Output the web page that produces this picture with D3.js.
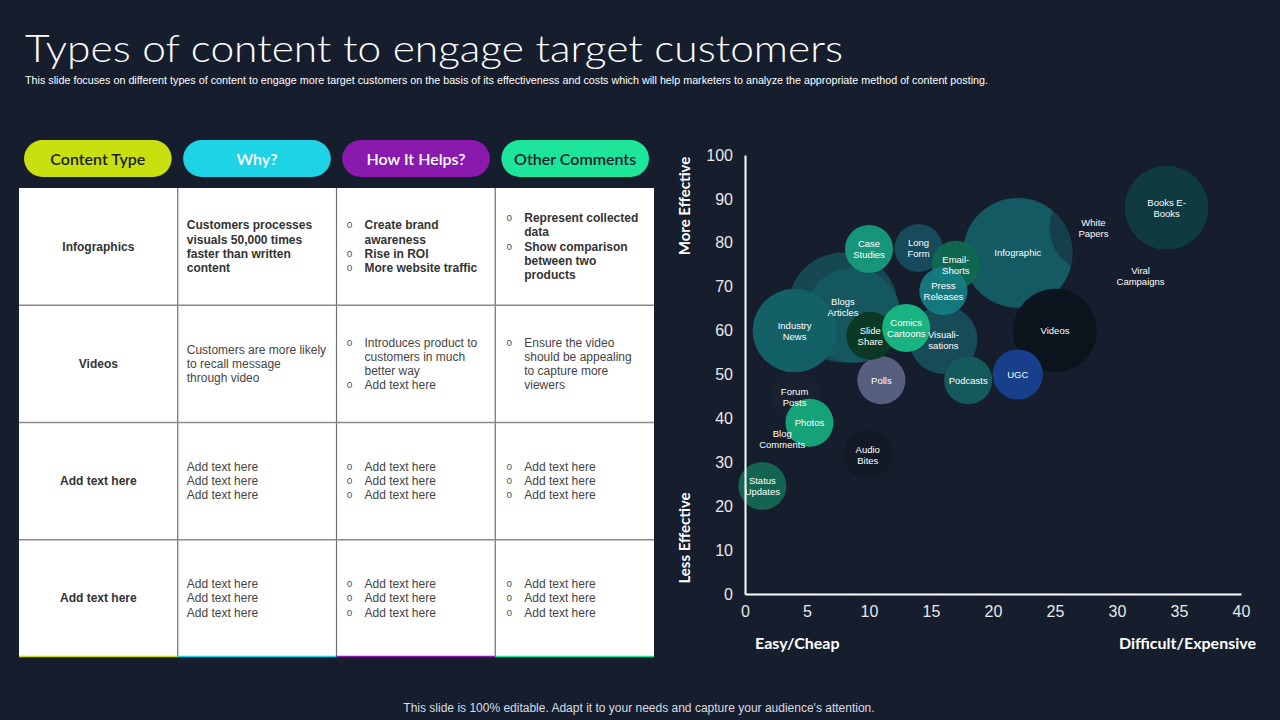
<!DOCTYPE html>
<html>
<head>
<meta charset="utf-8">
<script src="https://cdn.jsdelivr.net/npm/d3@7"></script>
<style>
  html, body { margin: 0; padding: 0; background: #161e2e; }
  svg { display: block; }
</style>
</head>
<body>
<svg id="chart" width="1280" height="720"></svg>
<script>
// ---------------- DATA ----------------
const titleText = "Types of content to engage target customers";
const subtitleText = "This slide focuses on different types of content to engage more target customers on the basis of its effectiveness and costs which will help marketers to analyze the appropriate method of content posting.";
const footerText = "This slide is 100% editable. Adapt it to your needs and capture your audience's attention.";

const headers = ["Content Type", "Why?", "How It Helps?", "Other Comments"];
const rowLabels = ["Infographics", "Videos", "Add  text here", "Add  text here"];
const whyCol = [
  ["Customers processes", "visuals 50,000 times", "faster than written", "content"],
  ["Customers are more likely", "to recall message", "through video"],
  ["Add text here", "Add text here", "Add text here"],
  ["Add text here", "Add text here", "Add text here"]
];
// each bullet: array of lines
const helpsCol = [
  [["Create brand", "awareness"], ["Rise in ROI"], ["More website traffic"]],
  [["Introduces product to", "customers in much", "better way"], ["Add text here"]],
  [["Add text here"], ["Add text here"], ["Add text here"]],
  [["Add text here"], ["Add text here"], ["Add text here"]]
];
const commentsCol = [
  [["Represent collected", "data"], ["Show comparison", "between two", "products"]],
  [["Ensure the video", "should be appealing", "to capture more", "viewers"]],
  [["Add text here"], ["Add text here"], ["Add text here"]],
  [["Add text here"], ["Add text here"], ["Add text here"]]
];
const boldRows = [true, false, false, false];

// bubble chart (draw order = array order)
const bubbleLabels = ["Infographic", "White\nPapers", "Books E-\nBooks", "Viral\nCampaigns", "Videos", "UGC",
  "Blogs\nArticles", "", "Industry\nNews", "Long\nForm", "Case\nStudies", "Visuali-\nsations", "Email-\nShorts",
  "Press\nReleases", "Podcasts", "Polls", "Slide\nShare", "Comics\nCartoons", "Forum\nPosts", "Photos",
  "Blog\nComments", "Audio\nBites", "Status\nUpdates"];
const costValues = [22, 28.1, 34, 31.9, 25, 22, 7.9, 8.7, 4, 14, 10, 16, 17, 16, 18, 11, 10.1, 13, 4, 5.2, 3, 9.9, 1.4];
const effectValues = [77.7, 83.4, 88, 72.4, 60, 50, 65.3, 63.5, 60, 78.8, 78.6, 57.9, 75, 69, 48.7, 48.7, 58.8, 60.6, 44.9, 39, 35.3, 31.7, 24.6];
const sizeValues = [96, 62, 56, 20, 56, 20, 96, 72, 56, 18.4, 18.4, 37, 18.4, 18.4, 18.4, 18.4, 18.4, 18.4, 20, 18.4, 18.4, 18.4, 18.4];

const xTicks = [0, 5, 10, 15, 20, 25, 30, 35, 40];
const yTicks = [0, 10, 20, 30, 40, 50, 60, 70, 80, 90, 100];

// ---------------- STYLES ----------------
const bubbleColors = ["#135a63", "#161e2e", "#0f3a41", "none", "#0b141c", "#173f8c",
  "#164851", "#15575e", "#136166", "#174b5c", "#17957a", "#174b57", "#0f6a50",
  "#157c82", "#145a5c", "#56607e", "#0a3a26", "#19b382", "#182130", "#15a279",
  "none", "#111926", "#136450"];
const bubbleOpacity = [1, 0.45, 1, 0, 0.95, 1, 1, 1, 1, 1, 1, 1, 0.95, 0.95, 1, 1, 1, 1, 1, 1, 0, 1, 1];
const pillColors = ["#c8e00f", "#1ed3e6", "#8a1aae", "#1de59a"];
const pillText = ["#1b1f2a", "#ffffff", "#ffffff", "#1b1f2a"];

const svg = d3.select("#chart");
const FONT = "'Liberation Sans', Arial, sans-serif";

// ---------------- TITLE ----------------
svg.append("text").attr("x", 25).attr("y", 62)
  .attr("font-family", "Lato, 'Open Sans', sans-serif").attr("font-weight", 300)
  .attr("font-size", 38).attr("fill", "#ffffff")
  .attr("textLength", 818).attr("lengthAdjust", "spacingAndGlyphs")
  .text(titleText);
svg.append("text").attr("x", 25).attr("y", 84)
  .attr("font-family", FONT).attr("font-size", 10).attr("fill", "#ffffff")
  .attr("textLength", 963).attr("lengthAdjust", "spacingAndGlyphs")
  .text(subtitleText);
svg.append("text").attr("x", 639).attr("y", 712).attr("text-anchor", "middle")
  .attr("font-family", FONT).attr("font-size", 12).attr("fill", "#d9dce2")
  .text(footerText);

// ---------------- TABLE ----------------
const colX = d3.scaleLinear().domain([0, 4]).range([19, 654]);
const rowY = d3.scaleLinear().domain([0, 4]).range([188, 657]);
const pillX = d3.scaleBand().domain(d3.range(4)).range([24, 649]).paddingInner(0.072);

const pills = svg.append("g");
headers.forEach((h, i) => {
  const x = pillX(i), w = pillX.bandwidth();
  pills.append("rect").attr("x", x).attr("y", 140).attr("width", w).attr("height", 37)
    .attr("rx", 18.5).attr("fill", pillColors[i]);
  pills.append("text").attr("x", x + w / 2).attr("y", 164.5).attr("text-anchor", "middle")
    .attr("font-family", "Lato, 'Open Sans', sans-serif").attr("font-weight", 600)
    .attr("font-size", 16).attr("fill", pillText[i]).text(h);
});

const table = svg.append("g");
table.append("rect").attr("x", colX(0)).attr("y", rowY(0))
  .attr("width", colX(4) - colX(0)).attr("height", rowY(4) - rowY(0)).attr("fill", "#ffffff");
for (let c = 1; c < 4; c++) {
  table.append("line").attr("x1", colX(c)).attr("x2", colX(c)).attr("y1", rowY(0)).attr("y2", rowY(4))
    .attr("stroke", "#6e6e6e").attr("stroke-width", 1.2);
}
for (let r = 1; r < 4; r++) {
  table.append("line").attr("x1", colX(0)).attr("x2", colX(4)).attr("y1", rowY(r)).attr("y2", rowY(r))
    .attr("stroke", "#8a8a8a").attr("stroke-width", 1.5);
}
for (let c = 0; c < 4; c++) {
  table.append("line").attr("x1", colX(c)).attr("x2", colX(c + 1)).attr("y1", rowY(4) - 0.5).attr("y2", rowY(4) - 0.5)
    .attr("stroke", pillColors[c]).attr("stroke-width", 1.5);
}

const LH = 14.2;
function block(lines, cx, cy, anchor, bold) {
  const n = lines.length;
  const y0 = cy - (n - 1) * LH / 2 + 4;
  lines.forEach((t, i) => {
    table.append("text").attr("x", cx).attr("y", y0 + i * LH).attr("text-anchor", anchor)
      .attr("font-family", FONT).attr("font-size", 12).attr("font-weight", bold ? 700 : 400)
      .attr("fill", bold ? "#333333" : "#454545").text(t);
  });
}
function bullets(items, bx, tx, cy, bold) {
  const lines = [];
  items.forEach(it => it.forEach((t, j) => lines.push({ t, b: j === 0 })));
  const n = lines.length;
  const y0 = cy - (n - 1) * LH / 2 + 4;
  lines.forEach((l, i) => {
    if (l.b) table.append("text").attr("x", bx).attr("y", y0 + i * LH - 1).attr("text-anchor", "middle")
      .attr("font-family", FONT).attr("font-size", 10).attr("fill", "#555").text("o");
    table.append("text").attr("x", tx).attr("y", y0 + i * LH)
      .attr("font-family", FONT).attr("font-size", 12).attr("font-weight", bold ? 700 : 400)
      .attr("fill", bold ? "#333333" : "#454545").text(l.t);
  });
}
rowLabels.forEach((lab, r) => {
  const cy = (rowY(r) + rowY(r + 1)) / 2;
  block([lab], (colX(0) + colX(1)) / 2, cy, "middle", true);
  block(whyCol[r], colX(1) + 9, cy, "start", boldRows[r]);
  bullets(helpsCol[r], colX(2) + 13, colX(2) + 28, cy, boldRows[r]);
  bullets(commentsCol[r], colX(3) + 14, colX(3) + 29, cy, boldRows[r]);
});

// ---------------- BUBBLE CHART ----------------
const x = d3.scaleLinear().domain([0, 40]).range([745, 1241]);
const y = d3.scaleLinear().domain([0, 100]).range([594, 155]);
const r = d3.scaleSqrt().domain([0, 100]).range([0, 56]);

const plot = svg.append("g");
bubbleLabels.forEach((lab, i) => {
  plot.append("circle").attr("cx", x(costValues[i])).attr("cy", y(effectValues[i]))
    .attr("r", r(sizeValues[i])).attr("fill", bubbleColors[i]).attr("fill-opacity", bubbleOpacity[i]);
});
bubbleLabels.forEach((lab, i) => {
  if (!lab) return;
  const lines = lab.split("\n");
  const cx = x(costValues[i]), cy = y(effectValues[i]);
  const t = plot.append("text").attr("text-anchor", "middle")
    .attr("font-family", FONT).attr("font-size", 9.5).attr("fill", "#ffffff");
  lines.forEach((l, j) => {
    t.append("tspan").attr("x", cx).attr("y", cy + 3.5 + (j - (lines.length - 1) / 2) * 11).text(l);
  });
});

const yAxis = d3.axisLeft(y).tickValues(yTicks).tickSize(0).tickPadding(12);
const xAxis = d3.axisBottom(x).tickValues(xTicks).tickSize(0).tickPadding(12);
const gy = svg.append("g").attr("transform", "translate(745,0)").call(yAxis);
const gx = svg.append("g").attr("transform", "translate(0,594)").call(xAxis);
[gx, gy].forEach(g => {
  g.select(".domain").attr("stroke", "#ffffff").attr("stroke-width", 2);
  g.selectAll("text").attr("font-family", FONT).attr("font-size", 16).attr("fill", "#e8e8e8");
});

const axTitle = { "font-family": "Lato, 'Open Sans', sans-serif", "font-weight": 700, "font-size": 15, "fill": "#ffffff" };
function addText(tx, ty, txt, anchor, rot) {
  const t = svg.append("text").attr("text-anchor", anchor)
    .attr("transform", `translate(${tx},${ty}) rotate(${rot})`).text(txt);
  Object.entries(axTitle).forEach(([k, v]) => t.attr(k, v));
  return t;
}
addText(690, 206, "More Effective", "middle", -90);
addText(690, 538, "Less Effective", "middle", -90);
addText(755, 649, "Easy/Cheap", "start", 0).attr("font-size", 16);
addText(1256, 649, "Difficult/Expensive", "end", 0).attr("font-size", 16);
</script>
</body>
</html>
